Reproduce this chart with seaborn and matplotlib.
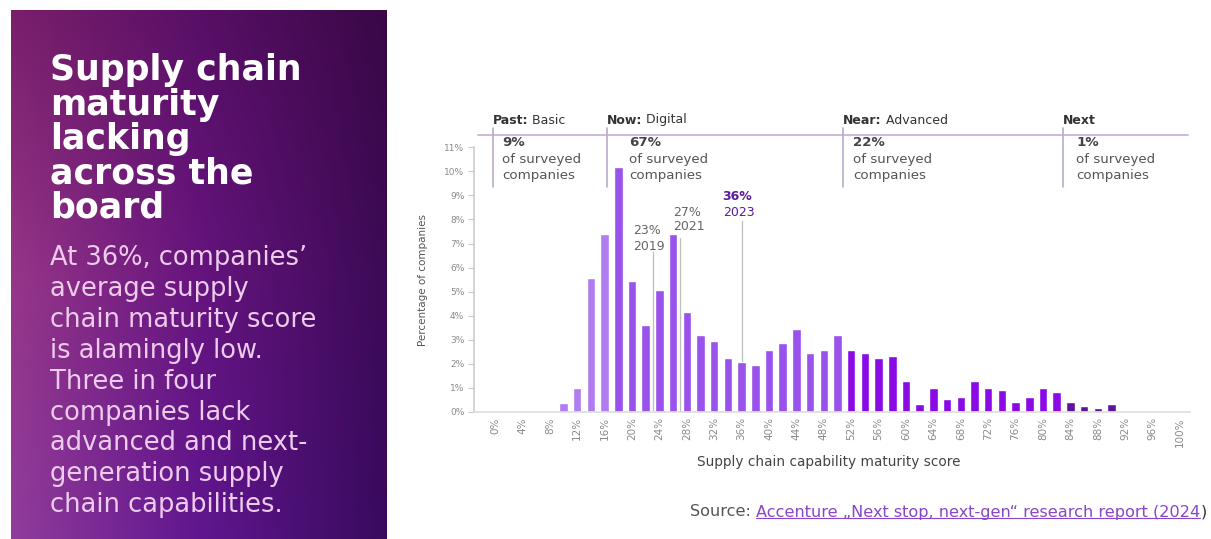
import numpy as np
import pandas as pd
import matplotlib
matplotlib.use("Agg")
import matplotlib.pyplot as plt
import seaborn as sns
from matplotlib.lines import Line2D

# Share of surveyed companies (%) in each 2-point maturity-score bin
scores = [10, 12, 14, 16, 18, 20, 22, 24, 26, 28, 30, 32, 34, 36, 38, 40, 42, 44, 46, 48, 50,
          52, 54, 56, 58, 60, 62, 64, 66, 68, 70, 72, 74, 76, 78, 80, 82, 84, 86, 88, 90]
shares = [0.35, 1.0, 5.55, 7.4, 10.17, 5.45, 3.6, 5.05, 7.4, 4.16, 3.18, 2.95, 2.25, 2.07, 1.96,
          2.57, 2.87, 3.43, 2.43, 2.57, 3.18,
          2.57, 2.44, 2.25, 2.32, 1.29, 0.32, 0.97, 0.51, 0.61, 1.29, 0.97, 0.89, 0.39, 0.61,
          0.97, 0.82, 0.39, 0.24, 0.14, 0.32]

# Maturity stages
stage_names = ["Past", "Now", "Near", "Next"]
stage_titles = ["Basic", "Digital", "Advanced", ""]
stage_company_share = ["9%", "67%", "22%", "1%"]
stage_bounds = [-0.3, 16.4, 50.8, 82.9, 101]

# Average maturity score by survey year
avg_years = ["2019", "2021", "2023"]
avg_scores = [23, 27, 36]

x_ticks = list(range(0, 101, 4))
y_ticks = list(range(0, 12))

stage_colors = {"Past": "#b07cf0", "Now": "#9a52ec", "Near": "#8a0ae6", "Next": "#5e1499"}

W, H = 1211, 539


def frect(l, t, r, b):
    return [l / W, 1 - b / H, (r - l) / W, (b - t) / H]


sns.set_theme(style="white")
plt.rcParams["font.family"] = ["DejaVu Sans"]

fig = plt.figure(figsize=(W / 100, H / 100), dpi=100)
fig.patch.set_facecolor("white")

# ---- left gradient panel -------------------------------------------------
ax_p = fig.add_axes(frect(11, 10, 387, 539))
corner = np.array([
    [[0x7a, 0x1e, 0x6a], [0x58, 0x0f, 0x66], [0x3a, 0x08, 0x46]],
    [[0x96, 0x36, 0x88], [0x66, 0x14, 0x7e], [0x3c, 0x0a, 0x56]],
    [[0x90, 0x3c, 0x9c], [0x60, 0x16, 0x90], [0x38, 0x0a, 0x5e]],
], dtype=float) / 255.0
ny, nx = 300, 200
gx = np.linspace(0, 2, nx)
gy = np.linspace(0, 2, ny)
rows = np.stack([np.stack([np.interp(gx, [0, 1, 2], corner[r, :, c]) for c in range(3)], -1)
                 for r in range(3)])  # 3 x nx x 3
grad = np.stack([np.stack([np.interp(gy, [0, 1, 2], rows[:, i, c]) for c in range(3)], -1)
                 for i in range(nx)], 1)  # ny x nx x 3
ax_p.imshow(grad, extent=(11, 387, 539, 10), aspect="auto", interpolation="bilinear")
ax_p.set_xlim(11, 387)
ax_p.set_ylim(539, 10)
ax_p.axis("off")

title_lines = ["Supply chain", "maturity", "lacking", "across the", "board"]
for i, line in enumerate(title_lines):
    ax_p.text(50, 80 + i * 34.5, line, color="white", fontsize=25, fontweight="bold",
              va="baseline", ha="left")

body_lines = ["At 36%, companies’", "average supply", "chain maturity score",
              "is alamingly low.", "Three in four", "companies lack",
              "advanced and next-", "generation supply", "chain capabilities."]
for i, line in enumerate(body_lines):
    ax_p.text(50, 265 + i * 30.9, line, color="#eccbeb", fontsize=18.5,
              va="baseline", ha="left")

# ---- histogram ------------------------------------------------------------
ax = fig.add_axes(frect(474, 135.4, 1190, 411.7))
df = pd.DataFrame({"score": scores, "share": shares})
df["stage"] = pd.cut(df["score"], bins=stage_bounds, labels=stage_names)
sns.barplot(data=df, x="score", y="share", hue="stage", palette=stage_colors,
            native_scale=True, dodge=False, width=0.62, legend=False, errorbar=None,
            saturation=1, ax=ax, zorder=2)

ax.set_xlim(-3.07, 101.46)
ax.set_ylim(0, 11.5)
ax.set_xticks(x_ticks)
ax.set_xticklabels([f"{v}%" for v in x_ticks], rotation=90, fontsize=7.5, color="#8a8a8a")
ax.set_yticks(y_ticks)
ax.set_yticklabels([f"{v}%" for v in y_ticks], fontsize=6.5, color="#8a8a8a")
ax.tick_params(axis="x", length=0, pad=4)
ax.tick_params(axis="y", length=4, width=0.8, color="#c8c8c8", pad=3, left=True)
for s in ("top", "right"):
    ax.spines[s].set_visible(False)
ax.spines["left"].set_color("#cfcfcf")
ax.spines["left"].set_bounds(0, 11)
ax.spines["bottom"].set_color("#dedede")
ax.set_facecolor("none")

ax.set_xlabel("Supply chain capability maturity score", fontsize=9.8, color="#444444")
ax.xaxis.set_label_coords(0.496, -0.157)
ax.set_ylabel("Percentage of companies", fontsize=7.5, color="#555555")
ax.yaxis.set_label_coords(-0.064, 0.477)

# average-score markers
line_tops = [6.65, 7.25, 7.95]
for v, top in zip(avg_scores, line_tops):
    ax.plot([v, v], [0, top], color="#bdbdbd", lw=0.9, zorder=1)

# ---- overlay in pixel coordinates ----------------------------------------
ov = fig.add_axes([0, 0, 1, 1])
ov.set_xlim(0, W)
ov.set_ylim(H, 0)
ov.axis("off")
ov.patch.set_alpha(0)

ov.add_line(Line2D([478, 1188], [135, 135], color="#c8b4dc", lw=1.3))
sep_px = [493, 607, 843, 1063]
text_indent = [9, 22, 10, 13]
for name, title, share, x, dx in zip(stage_names, stage_titles, stage_company_share,
                                     sep_px, text_indent):
    ov.add_line(Line2D([x, x], [128, 187], color="#b9aac9", lw=1.2))
    label = name + (":" if title else "")
    t = ov.text(x, 120, label, fontsize=9, fontweight="bold", color="#333333",
                va="center", ha="left")
    if title:
        ov.annotate(" " + title, xy=(1, 0), xycoords=t, fontsize=9, color="#333333",
                    va="bottom", ha="left")
    ov.text(x + dx, 143, share, fontsize=9.6, fontweight="bold", color="#444444",
            va="center", ha="left")
    ov.text(x + dx, 160, "of surveyed", fontsize=9.6, color="#555555", va="center", ha="left")
    ov.text(x + dx, 176, "companies", fontsize=9.6, color="#555555", va="center", ha="left")

avg_text_px = [(647, 231), (687, 212), (737, 197)]
for (px, py), v, yr in zip(avg_text_px, avg_scores, avg_years):
    latest = yr == avg_years[-1]
    col = "#5c1a9c" if latest else "#666666"
    ov.text(px, py, f"{v}%", fontsize=9, color=col, fontweight="bold" if latest else "normal",
            ha="center", va="center")
    ov.text(px + 2, py + 15, yr, fontsize=9, color=col, ha="center", va="center")

# source line with underlined link
src = ov.text(690, 512, "Source: ", fontsize=11.6, color="#555555", va="center", ha="left")
link = ov.annotate("Accenture „Next stop, next-gen“ research report (2024", xy=(1, 0),
                   xycoords=src, fontsize=11.6, color="#8a45c8", va="bottom", ha="left")
ov.annotate(")", xy=(1, 0), xycoords=link, fontsize=11.6, color="#333333",
            va="bottom", ha="left")
fig.canvas.draw()
bb = link.get_window_extent(fig.canvas.get_renderer())
ov.add_line(Line2D([bb.x0, bb.x1], [H - bb.y0 - 1.5, H - bb.y0 - 1.5], color="#8a45c8", lw=0.8))

fig.savefig("out.png", dpi=100)
